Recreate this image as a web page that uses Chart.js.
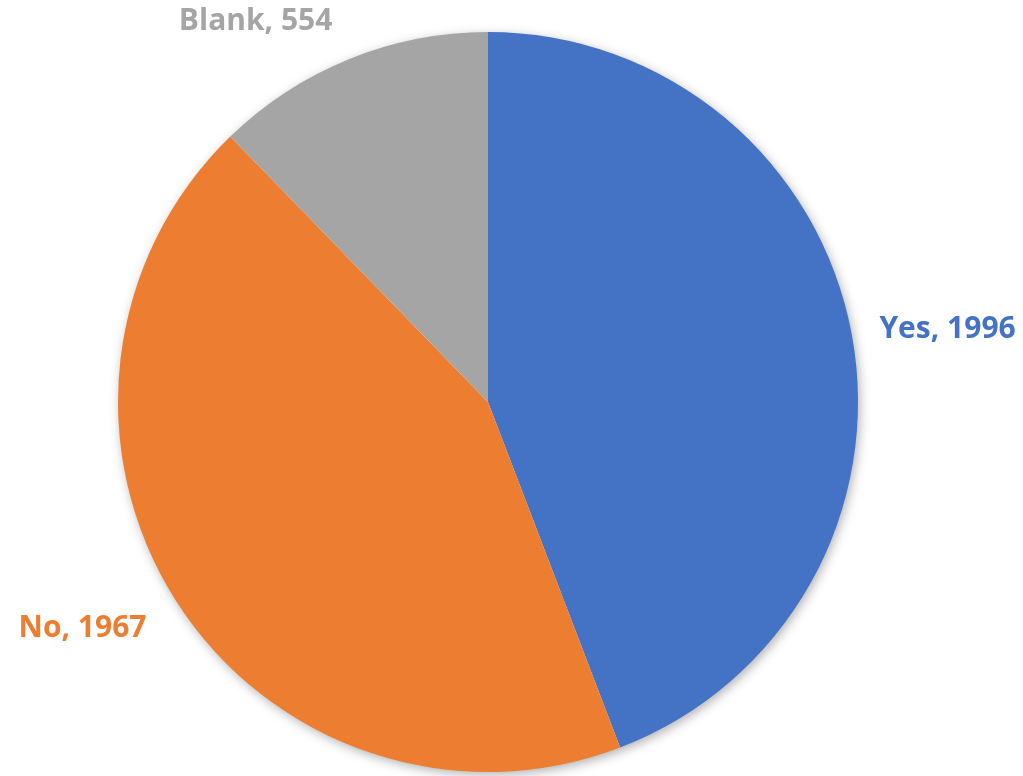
<!DOCTYPE html>
<html lang="en">
<head>
    <meta charset="UTF-8">
    <title>Yes / No / Blank</title>
    <style>
        body {
            margin: 0;
            padding: 0;
            background: #fff;
        }
        .chart-box {
            width: 1023px;
            height: 776px;
        }
    </style>
</head>
<body>
    <div class="chart-box">
        <canvas id="answerChart"></canvas>
    </div>

    <script src="https://cdn.jsdelivr.net/npm/chart.js"></script>
    <script>
        // data
        const labels = ['Yes', 'No', 'Blank'];
        const counts = [1996, 1967, 554];
        const sliceColors = ['#4472C4', '#ED7D31', '#A5A5A5'];

        // soft shadow under the pie
        const pieShadow = {
            id: 'pieShadow',
            beforeDatasetsDraw(chart) {
                const arc = chart.getDatasetMeta(0).data[0];
                if (!arc) return;
                const c = chart.ctx;
                c.save();
                c.shadowColor = 'rgba(0,0,0,0.35)';
                c.shadowBlur = 12;
                c.shadowOffsetX = 2;
                c.shadowOffsetY = 3;
                c.fillStyle = '#fff';
                c.beginPath();
                c.arc(arc.x, arc.y, arc.outerRadius - 1, 0, Math.PI * 2);
                c.fill();
                c.restore();
            }
        };

        // "Name, value" labels outside the slices (box touches the anchor point)
        const outsideLabels = {
            id: 'outsideLabels',
            afterDatasetsDraw(chart) {
                const c = chart.ctx;
                const meta = chart.getDatasetMeta(0);
                c.save();
                c.font = 'bold 30px "Open Sans", Lato, sans-serif';
                c.textAlign = 'center';
                c.textBaseline = 'middle';
                const halfH = 18;
                meta.data.forEach(function(arc, i) {
                    const text = labels[i] + ', ' + counts[i];
                    const halfW = c.measureText(text).width / 2;
                    const mid = (arc.startAngle + arc.endAngle) / 2;
                    const dx = Math.cos(mid), dy = Math.sin(mid);
                    const r = arc.outerRadius + 28;
                    const x = arc.x + dx * r + Math.sign(dx) * halfW - (dx < 0 ? 6 : 0);
                    const y = arc.y + dy * r + dy * halfH + 3;
                    c.fillStyle = sliceColors[i];
                    c.fillText(text, x, Math.max(y, 21));
                });
                c.restore();
            }
        };

        const ctx = document.getElementById('answerChart').getContext('2d');
        new Chart(ctx, {
            type: 'pie',
            data: {
                labels: labels,
                datasets: [{
                    data: counts,
                    backgroundColor: sliceColors,
                    borderWidth: 0
                }]
            },
            options: {
                responsive: true,
                maintainAspectRatio: false,
                animation: false,
                layout: {
                    padding: { left: 118, right: 165, top: 32, bottom: 4 }
                },
                plugins: {
                    legend: { display: false },
                    tooltip: { enabled: false }
                }
            },
            plugins: [pieShadow, outsideLabels]
        });
    </script>
</body>
</html>
